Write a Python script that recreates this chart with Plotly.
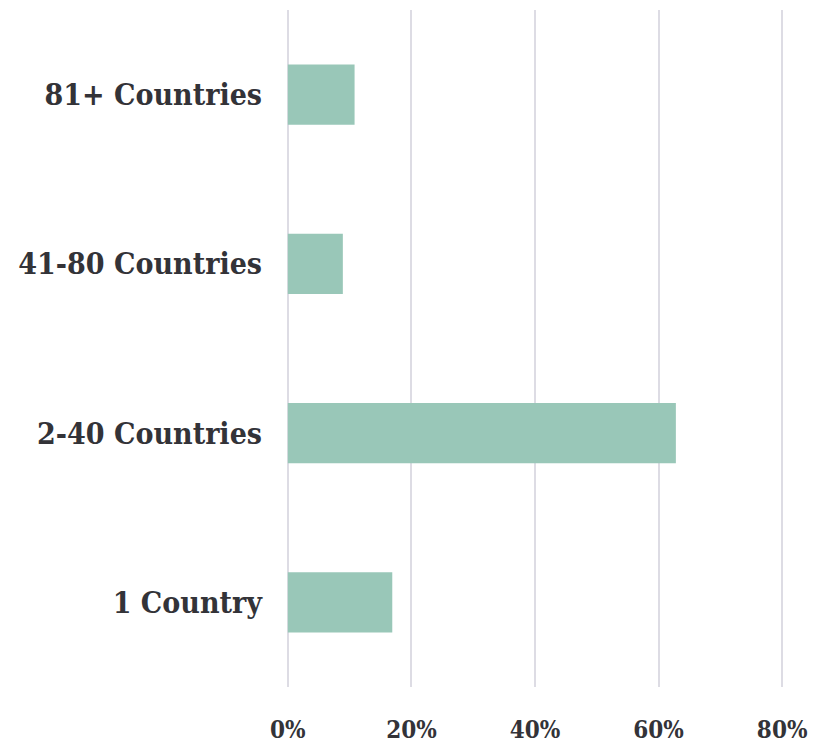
import plotly.graph_objects as go

categories = ["1 Country", "2-40 Countries", "41-80 Countries", "81+ Countries"]
shares = [16.9, 62.8, 8.9, 10.8]
tick_vals = [0, 20, 40, 60, 80]
tick_text = ["0%", "20%", "40%", "60%", "80%"]

fig = go.Figure(go.Bar(
    x=shares, y=categories, orientation="h",
    marker=dict(color="#99c7b8", line=dict(width=0)),
))

font_family = "DejaVu Serif Condensed, DejaVu Serif, serif"
fig.update_layout(
    width=820, height=747,
    margin=dict(l=286, r=36, t=10, b=60, autoexpand=False),
    paper_bgcolor="white", plot_bgcolor="white",
    bargap=0.645,
    showlegend=False,
    font=dict(family=font_family, color="#333338"),
)
fig.update_xaxes(
    range=[-0.3, 80.3], tickvals=tick_vals, ticktext=tick_text,
    showgrid=True, gridcolor="#dddce4", gridwidth=2,
    zeroline=False, showline=False, automargin=False,
    ticks="outside", ticklen=21, tickcolor="rgba(0,0,0,0)",
    tickfont=dict(size=24, family=font_family, color="#333338", weight="bold"),
)
fig.update_yaxes(
    showgrid=False, zeroline=False, showline=False, automargin=False,
    ticks="outside", ticklen=17, tickcolor="rgba(0,0,0,0)",
    tickfont=dict(size=30, family=font_family, color="#333338", weight="bold"),
)

fig.write_html(
    "out.html",
    config={"displayModeBar": False},
    post_script="document.body.style.margin='0';document.body.style.overflow='hidden';",
)
